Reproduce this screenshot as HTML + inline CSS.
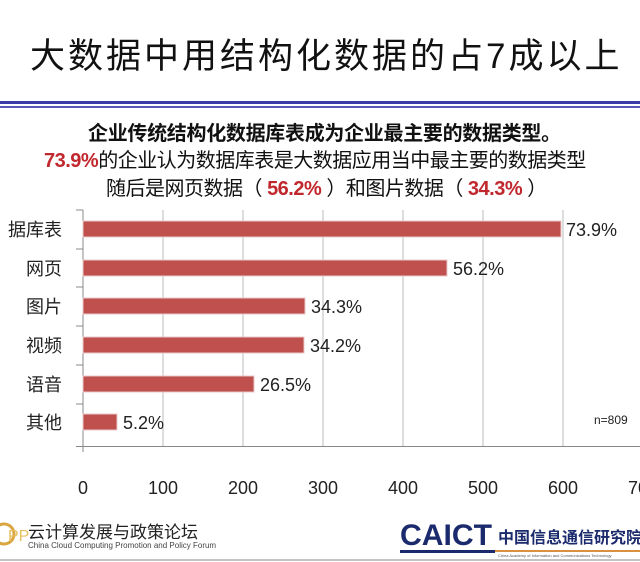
<!DOCTYPE html>
<html><head><meta charset="utf-8"><style>
body{margin:0;width:640px;height:562px;background:#fff;overflow:hidden;position:relative;font-family:"Liberation Sans","Noto Sans CJK SC",sans-serif;}
.a{position:absolute;white-space:nowrap;}
.r{color:#c0282d;}
</style></head><body>
<div class="a" style="left:30px;top:28px;font-size:35px;color:#111;letter-spacing:3px;">大数据中用结构化数据的占7成以上</div>
<div class="a" style="left:0;top:101px;width:640px;height:3px;background:#3a3aa8;"></div>
<div class="a" style="left:0;top:106px;width:640px;height:2px;background:#5858b8;"></div>
<div class="a" style="left:88px;top:117px;font-size:20px;font-weight:bold;color:#111;letter-spacing:-0.3px;">企业传统结构化数据库表成为企业最主要的数据类型。</div>
<div class="a" style="left:44px;top:144px;font-size:20px;color:#111;letter-spacing:-0.5px;"><b class="r">73.9%</b>的企业认为数据库表是大数据应用当中最主要的数据类型</div>
<div class="a" style="left:106px;top:172px;font-size:20px;color:#111;letter-spacing:-0.5px;">随后是网页数据（ <b class="r">56.2%</b> ）和图片数据（ <b class="r">34.3%</b> ）</div>
<svg class="a" style="left:0;top:0" width="640" height="562">
<g stroke="#bbb" stroke-width="1">
<line x1="163" y1="210" x2="163" y2="446"/><line x1="243" y1="210" x2="243" y2="446"/><line x1="323" y1="210" x2="323" y2="446"/><line x1="403" y1="210" x2="403" y2="446"/><line x1="483" y1="210" x2="483" y2="446"/><line x1="563" y1="210" x2="563" y2="446"/>
</g>
<g stroke="#888" stroke-width="1">
<line x1="83" y1="210" x2="83" y2="452"/><line x1="76" y1="446.5" x2="640" y2="446.5"/>
<line x1="76" y1="210" x2="83" y2="210"/><line x1="76" y1="249" x2="83" y2="249"/><line x1="76" y1="287" x2="83" y2="287"/><line x1="76" y1="326" x2="83" y2="326"/><line x1="76" y1="365" x2="83" y2="365"/><line x1="76" y1="404" x2="83" y2="404"/>
</g>
<g fill="#c0504d" stroke="#e8c8c8" stroke-width="1">
<rect x="83" y="221" width="478" height="16"/>
<rect x="83" y="260" width="364" height="16"/>
<rect x="83" y="298" width="222" height="16"/>
<rect x="83" y="337" width="221" height="16"/>
<rect x="83" y="376" width="171" height="16"/>
<rect x="83" y="414" width="34" height="16"/>
</g>
<g font-size="18" fill="#222" font-family="Liberation Sans,Noto Sans CJK SC,sans-serif">
<text x="566" y="236">73.9%</text><text x="453" y="275">56.2%</text><text x="311" y="313">34.3%</text><text x="310" y="352">34.2%</text><text x="260" y="391">26.5%</text><text x="123" y="429">5.2%</text>
</g>
<g font-size="18" fill="#222" text-anchor="end" font-family="Liberation Sans,Noto Sans CJK SC,sans-serif">
<text x="62" y="236">据库表</text><text x="62" y="275">网页</text><text x="62" y="313">图片</text><text x="62" y="352">视频</text><text x="62" y="391">语音</text><text x="62" y="429">其他</text>
</g>
<text x="594" y="424" font-size="12" fill="#222" font-family="Liberation Sans,sans-serif">n=809</text>
<g font-size="18" fill="#222" text-anchor="middle" font-family="Liberation Sans,sans-serif">
<text x="83" y="494">0</text><text x="163" y="494">100</text><text x="243" y="494">200</text><text x="323" y="494">300</text><text x="403" y="494">400</text><text x="483" y="494">500</text><text x="563" y="494">600</text><text x="643" y="494">700</text>
</g>
<circle cx="4" cy="534" r="10" fill="none" stroke="#d9a640" stroke-width="3"/>
<text x="8" y="541" font-size="16" fill="#e6c060" font-family="Liberation Sans,sans-serif">PP</text>
<text x="400" y="545" font-size="30" font-weight="bold" fill="#1a2a6c" font-family="Liberation Sans,sans-serif" textLength="92" lengthAdjust="spacingAndGlyphs">CAICT</text>
<rect x="400" y="550" width="95" height="3" fill="#1a2a6c"/>
<rect x="495" y="550" width="145" height="2" fill="#d99040"/>
<line x1="0" y1="560" x2="640" y2="560" stroke="#888" stroke-width="1"/>
</svg>
<div class="a" style="left:28px;top:518px;font-size:17px;color:#222;">云计算发展与政策论坛</div>
<div class="a" style="left:28px;top:541px;font-size:8px;color:#444;">China Cloud Computing Promotion and Policy Forum</div>
<div class="a" style="left:498px;top:524px;font-size:16px;font-weight:bold;color:#1a2a6c;">中国信息通信研究院</div>
<div class="a" style="left:498px;top:553px;font-size:4px;color:#555;">China Academy of Information and Communications Technology</div>
</body></html>
